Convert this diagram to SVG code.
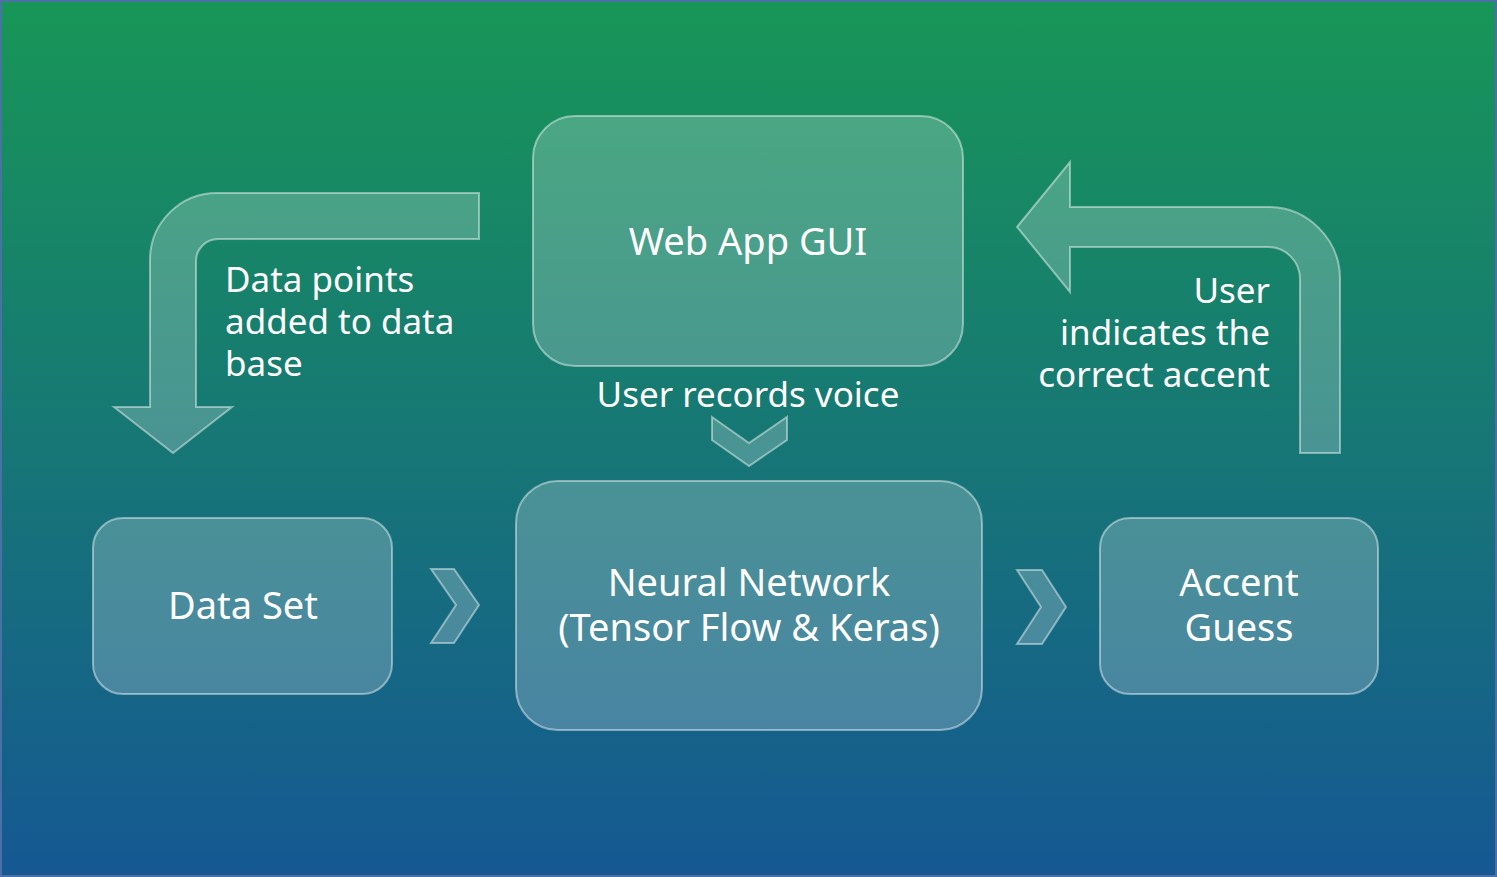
<svg xmlns="http://www.w3.org/2000/svg" width="1497" height="877" viewBox="0 0 1497 877">
<defs>
<linearGradient id="bg" x1="0" y1="0" x2="0" y2="1">
<stop offset="0" stop-color="#189657"/>
<stop offset="1" stop-color="#155893"/>
</linearGradient>
<style>
.shape{fill:#ffffff;fill-opacity:0.22;stroke:#ffffff;stroke-opacity:0.45;stroke-width:2}
.t{font-family:"Noto Sans","Open Sans","DejaVu Sans",sans-serif;fill:#ffffff}
.n{font-size:38px;text-anchor:middle}
.l{font-size:35px}
</style>
</defs>
<rect x="1" y="1" width="1495" height="875" fill="url(#bg)" stroke="#4a70a6" stroke-width="2"/>
<g id="connectors">
<path class="shape" d="M479,193 L217,193 A67,67 0 0 0 150,260 L150,407 L114,407 L173,453 L232,407 L196,407 L196,261 A22,22 0 0 1 218,239 L479,239 Z"/>
<path class="shape" d="M1017,227 L1070,162 L1070,207 L1268,207 A72,72 0 0 1 1340,279 L1340,453 L1300,453 L1300,279 A32,32 0 0 0 1268,247 L1070,247 L1070,292 Z"/>
<path class="shape" d="M712,417 L749,443 L787,417 L787,440 L749,466 L712,440 Z"/>
<path class="shape" d="M431,569 L454,569 L479,605 L454,643 L431,643 L456,605 Z"/>
<path class="shape" d="M1017,570 L1042,570 L1066,607 L1042,644 L1017,644 L1041,607 Z"/>
<text class="t l" x="225" y="292">Data points</text>
<text class="t l" x="225" y="334">added to data</text>
<text class="t l" x="225" y="376">base</text>
<text class="t l" x="1270" y="303" text-anchor="end">User</text>
<text class="t l" x="1270" y="345" text-anchor="end">indicates the</text>
<text class="t l" x="1270" y="387" text-anchor="end">correct accent</text>
<text class="t l" x="748" y="407" text-anchor="middle">User records voice</text>
</g>
<g id="webapp">
<rect class="shape" x="533" y="116" width="430" height="250" rx="42"/>
<text class="t n" x="748" y="255">Web App GUI</text>
</g>
<g id="neural">
<rect class="shape" x="516" y="481" width="466" height="249" rx="42"/>
<text class="t n" x="749" y="596">Neural Network</text>
<text class="t n" x="749" y="641">(Tensor Flow &amp; Keras)</text>
</g>
<g id="dataset">
<rect class="shape" x="93" y="518" width="299" height="176" rx="30"/>
<text class="t n" x="243" y="619">Data Set</text>
</g>
<g id="accent">
<rect class="shape" x="1100" y="518" width="278" height="176" rx="30"/>
<text class="t n" x="1239" y="596">Accent</text>
<text class="t n" x="1239" y="641">Guess</text>
</g>
</svg>
